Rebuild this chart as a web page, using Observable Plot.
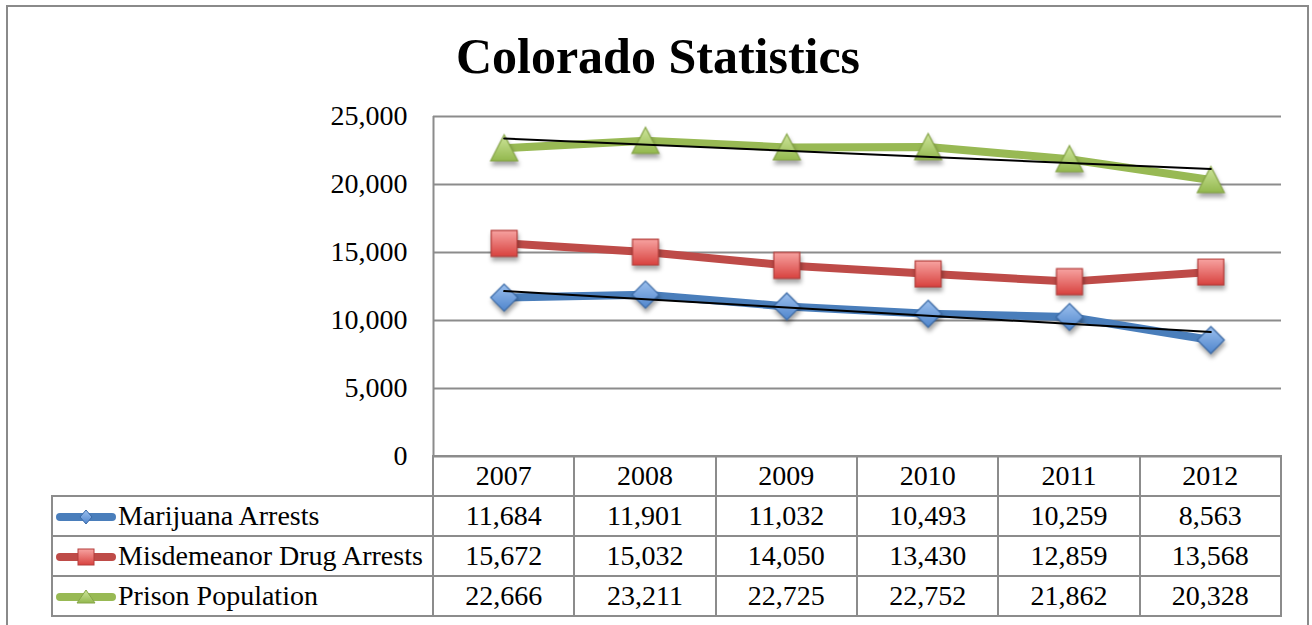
<!DOCTYPE html>
<html>
<head>
<meta charset="utf-8">
<script src="https://cdn.jsdelivr.net/npm/d3@7"></script>
<script src="https://cdn.jsdelivr.net/npm/@observablehq/plot@0.6"></script>
<style>
  body { margin: 0; background: #fff; }
  #wrap { position: relative; width: 1312px; height: 625px; overflow: hidden; font-family: "Liberation Serif", "Times New Roman", serif; background: #fff; }
  #frame { position: absolute; left: 6px; top: 5px; width: 1299px; height: 700px; border: 2px solid #8a8a8a; z-index: 10; pointer-events: none; }
  #title { position: absolute; left: 0; top: 31px; width: 1316px; text-align: center; font-weight: bold; font-size: 50px; line-height: 50px; color: #000; }
  #chart { position: absolute; left: 0; top: 96px; }
  #chart g[aria-label="dot"] { filter: drop-shadow(1px 4px 2px rgba(0,0,0,0.35)); }
  #tbl { position: absolute; left: 51px; top: 455px; border-collapse: collapse; table-layout: fixed; font-size: 28px; color: #000; }
  #tbl td { border: 2px solid #8c8c8c; height: 38px; padding: 0; text-align: center; vertical-align: middle; line-height: 36px; white-space: nowrap; }
  #tbl td.blank { border: none; }
  #tbl td.name { text-align: left; padding-left: 1px; }
  #tbl td.name svg { vertical-align: middle; position: relative; top: -2px; }
</style>
</head>
<body>
<div id="wrap">
  <div id="title">Colorado Statistics</div>
  <div id="chart"></div>
  <table id="tbl"></table>
  <div id="frame"></div>
</div>
<script>
const years = [2007, 2008, 2009, 2010, 2011, 2012];
const seriesNames = ["Marijuana Arrests", "Misdemeanor Drug Arrests", "Prison Population"];
const marijuana = [11684, 11901, 11032, 10493, 10259, 8563];
const misdemeanor = [15672, 15032, 14050, 13430, 12859, 13568];
const prison = [22666, 23211, 22725, 22752, 21862, 20328];
const yTicks = [0, 5000, 10000, 15000, 20000, 25000];
const lineColors = ["#4a7ebb", "#be4b48", "#98b954"];
const markerStrokes = ["#3b6aa6", "#b43f3c", "#86a548"];
const gradTop = ["#9cc0ee", "#f7a3a1", "#cfe69c"];
const gradBottom = ["#4f85cc", "#d8423f", "#93b84e"];
const trendSeries = [true, false, true];

const seriesValues = [marijuana, misdemeanor, prison];
const fmt = d3.format(",");

// custom marker symbols
const diamondSym = { draw(ctx, size) { const r = Math.sqrt(size / Math.PI); ctx.moveTo(0, -r); ctx.lineTo(r, 0); ctx.lineTo(0, r); ctx.lineTo(-r, 0); ctx.closePath(); } };
const squareSym = { draw(ctx, size) { const r = Math.sqrt(size / Math.PI) * 0.96; ctx.rect(-r, -r, 2 * r, 2 * r); } };
const triangleSym = { draw(ctx, size) { const r = Math.sqrt(size / Math.PI); ctx.moveTo(0, -r); ctx.lineTo(r, r * 0.93); ctx.lineTo(-r, r * 0.93); ctx.closePath(); } };
const symbols = [diamondSym, squareSym, triangleSym];

const data = seriesNames.map((name, i) => years.map((year, j) => ({ series: name, year, value: seriesValues[i][j] })));

const marks = [
  Plot.ruleY(yTicks, { stroke: "#8c8c8c", strokeWidth: 2 }),
  Plot.ruleX([2006.5], { stroke: "#8c8c8c", strokeWidth: 2 })
];
data.forEach((d, i) => {
  marks.push(Plot.lineY(d, { x: "year", y: "value", stroke: lineColors[i], strokeWidth: 8, strokeLinejoin: "round", strokeLinecap: "butt" }));
});
data.forEach((d, i) => {
  marks.push(Plot.dot(d, { x: "year", y: "value", symbol: symbols[i], r: 13.5, fill: `url(#grad${i})`, stroke: markerStrokes[i], strokeWidth: 1.2 }));
});
data.forEach((d, i) => {
  if (trendSeries[i]) marks.push(Plot.linearRegressionY(d, { x: "year", y: "value", stroke: "black", strokeWidth: 2, ci: 0 }));
});

const chart = Plot.plot({
  width: 1312,
  height: 384,
  marginLeft: 433,
  marginRight: 31,
  marginTop: 20,
  marginBottom: 24,
  style: { fontFamily: "Liberation Serif, Times New Roman, serif", fontSize: "28px", color: "#000", background: "transparent", overflow: "visible" },
  x: { domain: [2006.5, 2012.5], axis: null },
  y: { domain: [0, 25000], ticks: yTicks, tickFormat: fmt, tickSize: 0, tickPadding: 26, label: null },
  marks
});

const defs = d3.select(chart).insert("defs", ":first-child");
lineColors.forEach((c, i) => {
  const g = defs.append("linearGradient").attr("id", `grad${i}`).attr("x1", 0).attr("y1", 0).attr("x2", 0).attr("y2", 1);
  g.append("stop").attr("offset", "0%").attr("stop-color", gradTop[i]);
  g.append("stop").attr("offset", "100%").attr("stop-color", gradBottom[i]);
});
document.getElementById("chart").appendChild(chart);

// data table
const tbl = d3.select("#tbl");
const cg = tbl.append("colgroup");
cg.append("col").style("width", "381px");
years.forEach(() => cg.append("col").style("width", "141.33px"));
const head = tbl.append("tr");
head.append("td").attr("class", "blank");
years.forEach(y => head.append("td").text(y));

function keyMarkup(i) {
  const cx = 32, cy = 11;
  let shape;
  if (i === 0) shape = `<path d="M${cx},${cy - 7}L${cx + 6},${cy}L${cx},${cy + 7}L${cx - 6},${cy}Z"/>`;
  else if (i === 1) shape = `<rect x="${cx - 8}" y="${cy - 8}" width="16" height="16"/>`;
  else shape = `<path d="M${cx},${cy - 7}L${cx + 9},${cy + 6}L${cx - 9},${cy + 6}Z"/>`;
  return `<svg width="64" height="22" viewBox="0 0 64 22"><line x1="6" y1="${cy}" x2="58" y2="${cy}" stroke="${lineColors[i]}" stroke-width="8" stroke-linecap="round"/><g fill="url(#grad${i})" stroke="${markerStrokes[i]}" stroke-width="1">${shape}</g></svg>`;
}

seriesNames.forEach((name, i) => {
  const tr = tbl.append("tr");
  tr.append("td").attr("class", "name").html(keyMarkup(i) + name);
  seriesValues[i].forEach(v => tr.append("td").text(fmt(v)));
});
</script>
</body>
</html>
